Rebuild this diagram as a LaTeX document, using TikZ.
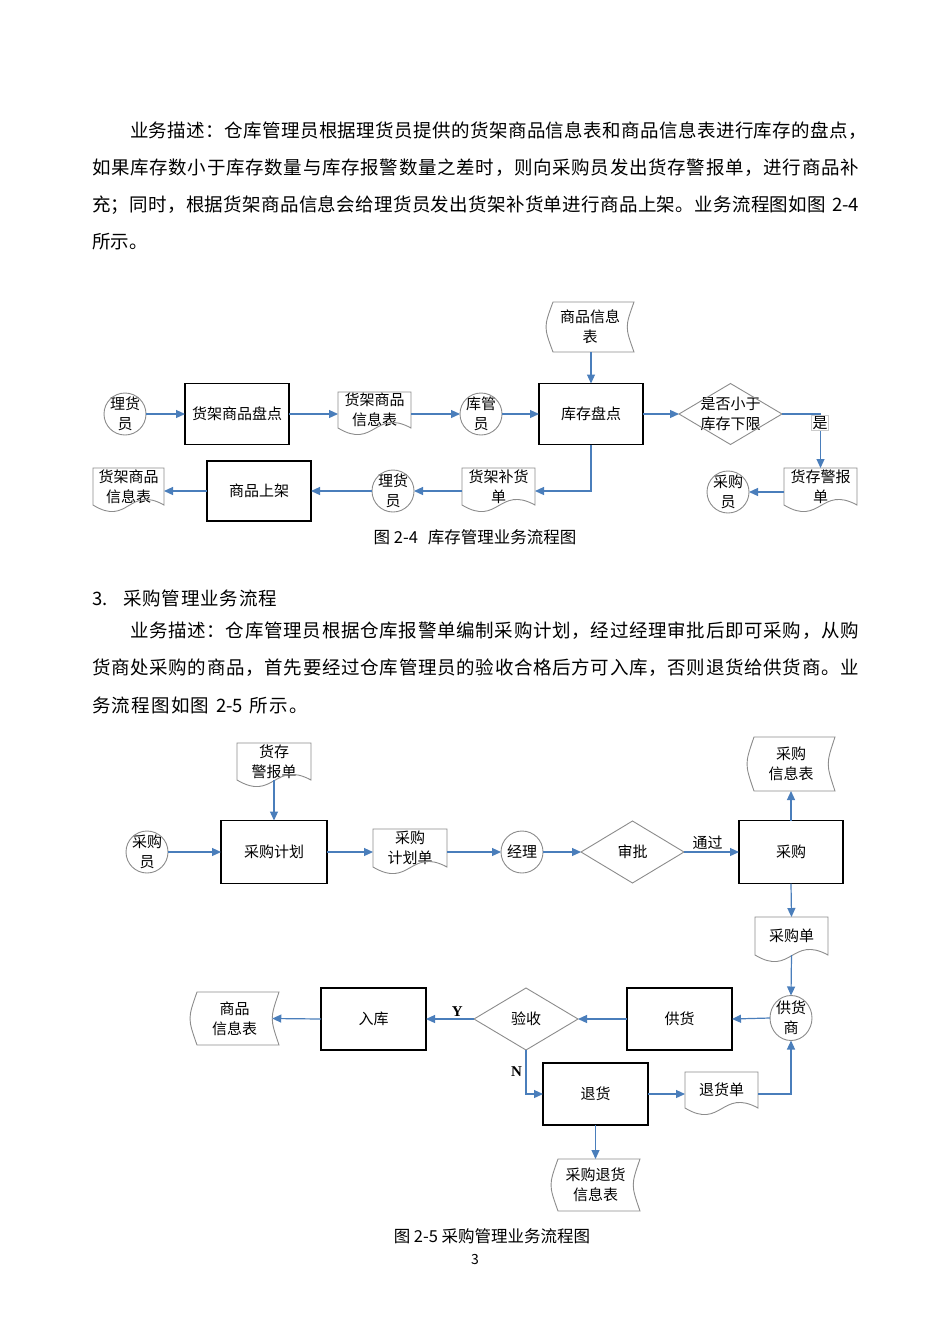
\documentclass[tikz,border=0pt]{standalone}
\usepackage{fontspec}
\setmainfont{Noto Sans CJK SC}
\newfontfamily\latinserif{Liberation Serif}
\usetikzlibrary{arrows.meta,calc}
\definecolor{arrowblue}{RGB}{74,126,187}
\definecolor{shapegray}{RGB}{140,140,140}
\makeatletter
\def\jl@stopmark{\jl@stop}
\def\jl@first#1{#1\jl@loop}
\def\jl@loop#1{\def\jl@tmp{#1}\ifx\jl@tmp\jl@stopmark\else\hfil#1\expandafter\jl@loop\fi}
\newcommand\jline[2]{\hbox to #1{\jl@first#2\jl@stop}}
\makeatother
\newcommand\docshape[1]{\draw[gline] (#1.north west) -- (#1.north east) -- (#1.south east) .. controls ($(#1.south)+(0,-20)$) and ($(#1.south)+(0,22)$) .. (#1.south west) -- cycle;}
\newcommand\storeshape[1]{\draw[gline] ($(#1.north west)+(7,0)$) -- (#1.north east) .. controls ($(#1.east)+(-9,0)$) .. (#1.south east) -- ($(#1.south west)+(7,0)$) .. controls ($(#1.west)+(-2.3,0)$) .. ($(#1.north west)+(7,0)$) -- cycle;}
\newcommand\diashape[1]{\draw[gline] (#1.west) -- (#1.north) -- (#1.east) -- (#1.south) -- cycle;}
\tikzset{
  every node/.style={inner sep=0pt, outer sep=0pt},
  body/.style={anchor=west, font=\fontsize{18.5}{18.5}\selectfont},
  proc/.style={draw=black, line width=1.3pt, minimum width=104pt, minimum height=61pt, font=\fontsize{15}{20}\selectfont, align=center},
  holder/.style={font=\fontsize{15}{20}\selectfont, align=center},
  gline/.style={draw=shapegray, line width=0.9pt},
  flow/.style={draw=arrowblue, line width=1.2pt, -{Triangle[length=9pt,width=8pt]}},
  lbl/.style={font=\fontsize{15}{15}\selectfont},
  figcap/.style={font=\fontsize{16.5}{16.5}\selectfont},
}
\begin{document}
\begin{tikzpicture}[x=1pt,y=-1pt]
\fill[white] (0,0) rectangle (950,1344);
\useasboundingbox (0,0) rectangle (950,1344);

% ---------- paragraph 1 ----------
\node[body] (p1a) at (130,131) {\jline{737pt}{业务描述：仓库管理员根据理货员提供的货架商品信息表和商品信息表进行库存的盘点，}};
\node[body] (p1b) at (92,168) {\jline{767pt}{如果库存数小于库存数量与库存报警数量之差时，则向采购员发出货存警报单，进行商品补}};
\node[body] (p1c) at (92,205) {\jline{767pt}{充；同时，根据货架商品信息会给理货员发出货架补货单进行商品上架。业务流程图如图{\hspace{0.3em}2-4}}};
\node[body] (p1d) at (92,242) {所示。};

% ---------- figure 2-4 ----------
\node[holder, minimum width=42pt, minimum height=42pt] (lhy1) at (125,414) {理货\\员};
\node[proc] (hjpd) at (237,414) {货架商品盘点};
\node[holder, minimum width=73pt, minimum height=36pt] (hjxx1) at (374.5,410) {货架商品\\信息表};
\node[holder, minimum width=42pt, minimum height=42pt] (kgy) at (481,414) {库管\\员};
\node[proc] (kcpd) at (591,414) {库存盘点};
\node[holder, minimum width=88pt, minimum height=50pt] (spxx1) at (590,327) {商品信息\\表};
\node[holder, minimum width=103pt, minimum height=61pt] (sf) at (730.5,414) {是否小于\\库存下限};
\node[holder, minimum width=73pt, minimum height=37pt] (hcjb1) at (820.5,486.5) {货存警报\\单};
\node[holder, minimum width=42pt, minimum height=42pt] (cgy1) at (728,492) {采购\\员};
\node[holder, minimum width=73pt, minimum height=37pt] (hjbh) at (498.5,486.5) {货架补货\\单};
\node[holder, minimum width=42pt, minimum height=42pt] (lhy2) at (393,491) {理货\\员};
\node[proc, minimum height=60pt] (spsj) at (259,491) {商品上架};
\node[holder, minimum width=71pt, minimum height=37pt] (hjxx2) at (128.5,486.5) {货架商品\\信息表};

\foreach \n in {lhy1,kgy,cgy1,lhy2} {\draw[gline] (\n) circle (21pt);}
\foreach \n in {hjxx1,hcjb1,hjbh,hjxx2} {\docshape{\n}}
\storeshape{spxx1}
\diashape{sf}

\draw[flow] (lhy1.east) -- (hjpd.west);
\draw[flow] (hjpd.east) -- (hjpd.east -| hjxx1.west);
\draw[flow] (hjxx1.east |- kgy.west) -- (kgy.west);
\draw[flow] (kgy.east) -- (kcpd.west);
\draw[flow] (kcpd.north |- spxx1.south) -- (kcpd.north);
\draw[flow] (kcpd.east) -- (sf.west);
\draw[flow] (sf.east) -| (hcjb1.north);
\node[lbl, fill=white, draw=shapegray!45, line width=0.4pt, inner sep=1pt] (shi) at (820,423) {是};
\draw[flow] (hcjb1.west |- cgy1.east) -- (cgy1.east);
\draw[flow] (kcpd.south) |- (hjbh.east |- lhy2.east);
\draw[flow] (hjbh.west |- lhy2.east) -- (lhy2.east);
\draw[flow] (lhy2.west) -- (spsj.east);
\draw[flow] (spsj.west) -- (hjxx2.east |- spsj.west);

\node[figcap] (cap1) at (475,537) {图 2-4\hspace{0.6em}库存管理业务流程图};

% ---------- section 3 ----------
\node[body] (h3) at (92,598) {3.\hspace{0.85em}\jline{154pt}{采购管理业务流程}};
\node[body] (p2a) at (130,631) {\jline{729pt}{业务描述：仓库管理员根据仓库报警单编制采购计划，经过经理审批后即可采购，从购}};
\node[body] (p2b) at (92,668) {\jline{767pt}{货商处采购的商品，首先要经过仓库管理员的验收合格后方可入库，否则退货给供货商。业}};
\node[body] (p2c) at (92,705) {\jline{216pt}{务流程图如图{\hspace{0.3em}2-5\hspace{0.3em}}所示。}};

% ---------- figure 2-5 ----------
\node[holder, minimum width=74pt, minimum height=37pt] (hcjb2) at (274,761.5) {货存\\警报单};
\node[proc, minimum width=106pt, minimum height=63pt] (cgjh) at (274,852) {采购计划};
\node[holder, minimum width=42pt, minimum height=42pt] (cgy2) at (147,852) {采购\\员};
\node[holder, minimum width=74pt, minimum height=38pt] (cgjhd) at (410,848) {采购\\计划单};
\node[holder, minimum width=42pt, minimum height=42pt] (jl) at (522,852) {经理};
\node[holder, minimum width=103pt, minimum height=62pt] (sp) at (632.5,852) {审批};
\node[proc, minimum width=104pt, minimum height=63pt] (cg) at (791,852) {采购};
\node[holder, minimum width=88pt, minimum height=54pt] (cgxx) at (791,764) {采购\\信息表};
\node[holder, minimum width=73pt, minimum height=38pt] (cgd) at (791.5,936) {采购单};
\node[holder, minimum width=42pt, minimum height=45pt] (ghs) at (791,1018) {供货\\商};
\node[proc, minimum width=105pt, minimum height=62pt] (gh) at (679.5,1019) {供货};
\node[holder, minimum width=104pt, minimum height=62pt] (ys) at (526,1019) {验收};
\node[proc, minimum width=105pt, minimum height=62pt] (rk) at (373.5,1019) {入库};
\node[holder, minimum width=89pt, minimum height=53pt] (spxx2) at (234.5,1018.5) {商品\\信息表};
\node[proc, minimum width=105pt, minimum height=62pt] (th) at (595.5,1094) {退货};
\node[holder, minimum width=73pt, minimum height=36pt] (thd) at (721.5,1090) {退货单};
\node[holder, minimum width=89pt, minimum height=52pt] (cgth) at (595.5,1185) {采购退货\\信息表};

\foreach \n in {cgy2,jl} {\draw[gline] (\n) circle (21pt);}
\draw[gline] (ghs) ellipse (21pt and 22.5pt);
\foreach \n in {hcjb2,cgjhd,cgd,thd} {\docshape{\n}}
\foreach \n in {cgxx,spxx2,cgth} {\storeshape{\n}}
\diashape{sp}
\diashape{ys}

\draw[flow] (hcjb2.south) -- (cgjh.north);
\draw[flow] (cgy2.east) -- (cgjh.west);
\draw[flow] (cgjh.east) -- (cgjhd.west |- cgjh.east);
\draw[flow] (cgjhd.east |- jl.west) -- (jl.west);
\draw[flow] (jl.east) -- (sp.west);
\draw[flow] (sp.east) -- node[lbl, above=2pt, pos=0.43] (tg) {通过} (cg.west);
\draw[flow] (cg.north) -- (cgxx.south);
\draw[flow] (cg.south) -- (cgd.north);
\draw[flow] (cgd.south) -- (ghs.north);
\draw[flow] (ghs.west) -- (gh.east);
\draw[flow] (gh.west) -- (ys.east);
\draw[flow] (ys.west) -- node[lbl, above=3pt, pos=0.35, font=\latinserif\bfseries\fontsize{15}{15}\selectfont] (yy) {Y} (rk.east);
\draw[flow] (rk.west) -- ($(spxx2.east)+(-6.75,0)$);
\draw[flow] (ys.south) |- node[pos=0.25, left=4pt, font=\latinserif\bfseries\fontsize{15}{15}\selectfont] (nn) {N} (th.west);
\draw[flow] (th.east) -- (thd.west |- th.east);
\draw[flow] (thd.east |- th.east) -| (ghs.south);
\draw[flow] (th.south) -- (cgth.north);

\node[figcap] (cap2) at (492,1236) {图 2-5 采购管理业务流程图};
\node[font=\fontsize{14}{14}\selectfont] (pg) at (475,1259) {3};
\end{tikzpicture}
\end{document}
